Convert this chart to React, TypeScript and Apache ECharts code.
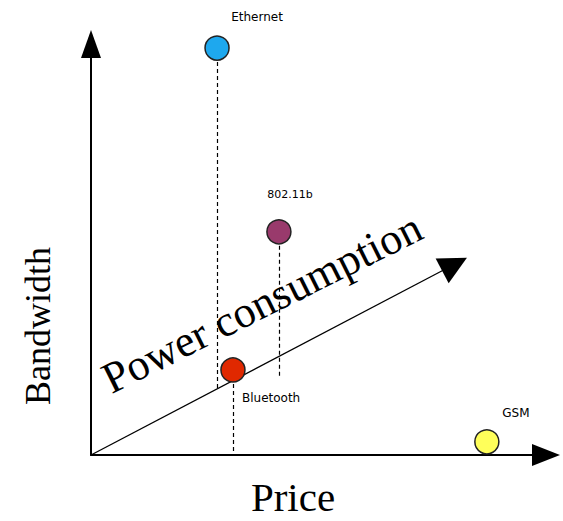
import React, { useEffect, useRef } from "react";
import * as echarts from "echarts";

// Technologies placed on the Price / Bandwidth plane (0..100 relative units)
const technologies = ["Ethernet", "802.11b", "Bluetooth", "GSM"];
const price = [27.7, 41.3, 31.2, 87.0];
const bandwidth = [99.0, 54.3, 20.7, 3.2];
// bandwidth level at which each dashed drop line ends (null = no drop line)
const dropTo: (number | null)[] = [16.1, 18.7, 0, null];
// power-consumption axis end (diagonal) in the same units
const powerAxisEnd = [79.9, 46.4];

const axisTitles = { x: "Price", y: "Bandwidth", z: "Power consumption" };

const colors = ["#1ea8ee", "#993a6c", "#e02800", "#ffff5a"];
const labelOffsets: [number, number][] = [
  [40, -31],
  [11, -37],
  [9, 28],
  [29, -29],
];
const labelAlign = ["center", "center", "left", "center"];
const labelSizes = [12, 11, 12, 12];

export default function App() {
  const ref = useRef<HTMLDivElement>(null);
  useEffect(() => {
    if (!ref.current) return;
    const chart = echarts.init(ref.current, undefined, { renderer: "svg" });

    const points = technologies.map((name, i) => ({
      name,
      value: [price[i], bandwidth[i]],
      itemStyle: { color: colors[i] },
      label: {
        show: true,
        formatter: name,
        position: "inside",
        offset: labelOffsets[i],
        align: labelAlign[i],
        verticalAlign: "middle",
        color: "#000",
        fontFamily: "DejaVu Sans",
        fontSize: labelSizes[i],
      },
    }));

    const drops = technologies
      .map((name, i) =>
        dropTo[i] === null
          ? null
          : { coords: [[price[i], bandwidth[i]], [price[i], dropTo[i] as number]] }
      )
      .filter(Boolean);

    chart.setOption({
      animation: false,
      backgroundColor: "#ffffff",
      grid: { left: 91, top: 44, right: 17, bottom: 66, containLabel: false },
      xAxis: {
        type: "value",
        min: 0,
        max: 100,
        axisLine: {
          show: true,
          onZero: false,
          lineStyle: { color: "#000", width: 2 },
          symbol: ["none", "triangle"],
          symbolSize: [22, 28],
        },
        axisTick: { show: false },
        axisLabel: { show: false },
        splitLine: { show: false },
      },
      yAxis: {
        type: "value",
        min: 0,
        max: 100,
        axisLine: {
          show: true,
          onZero: false,
          lineStyle: { color: "#000", width: 2 },
          symbol: ["none", "triangle"],
          symbolSize: [20, 28],
        },
        axisTick: { show: false },
        axisLabel: { show: false },
        splitLine: { show: false },
      },
      graphic: [
        {
          type: "text",
          x: 293,
          y: 497,
          style: {
            text: axisTitles.x,
            font: "41px 'Liberation Serif'",
            fill: "#000",
            align: "center",
            verticalAlign: "middle",
          },
        },
        {
          type: "text",
          x: 38,
          y: 326,
          rotation: Math.PI / 2,
          style: {
            text: axisTitles.y,
            font: "36px 'Liberation Serif'",
            fill: "#000",
            align: "center",
            verticalAlign: "middle",
          },
        },
        {
          type: "text",
          x: 262,
          y: 303,
          rotation: (26.5 * Math.PI) / 180,
          style: {
            text: axisTitles.z,
            font: "44px 'Liberation Serif'",
            fill: "#000",
            align: "center",
            verticalAlign: "middle",
          },
        },
      ],
      series: [
        {
          type: "lines",
          coordinateSystem: "cartesian2d",
          silent: true,
          symbol: ["none", "triangle"],
          symbolSize: [20, 28],
          lineStyle: { color: "#000", width: 1.3, opacity: 1 },
          itemStyle: { color: "#000" },
          data: [{ coords: [[0, 0], powerAxisEnd] }],
          z: 2,
        },
        {
          type: "lines",
          coordinateSystem: "cartesian2d",
          silent: true,
          symbol: ["none", "none"],
          lineStyle: { color: "#000", width: 1.2, type: [4, 3], opacity: 1 },
          data: drops,
          z: 2,
        },
        {
          type: "scatter",
          symbol: "circle",
          symbolSize: 24,
          itemStyle: { borderColor: "#222", borderWidth: 1.5, opacity: 1 },
          data: points,
          z: 5,
        },
      ],
    });
    return () => chart.dispose();
  }, []);
  return (
    <div
      ref={ref}
      style={{ position: "fixed", left: 0, top: 0, width: 563, height: 521 }}
    />
  );
}
